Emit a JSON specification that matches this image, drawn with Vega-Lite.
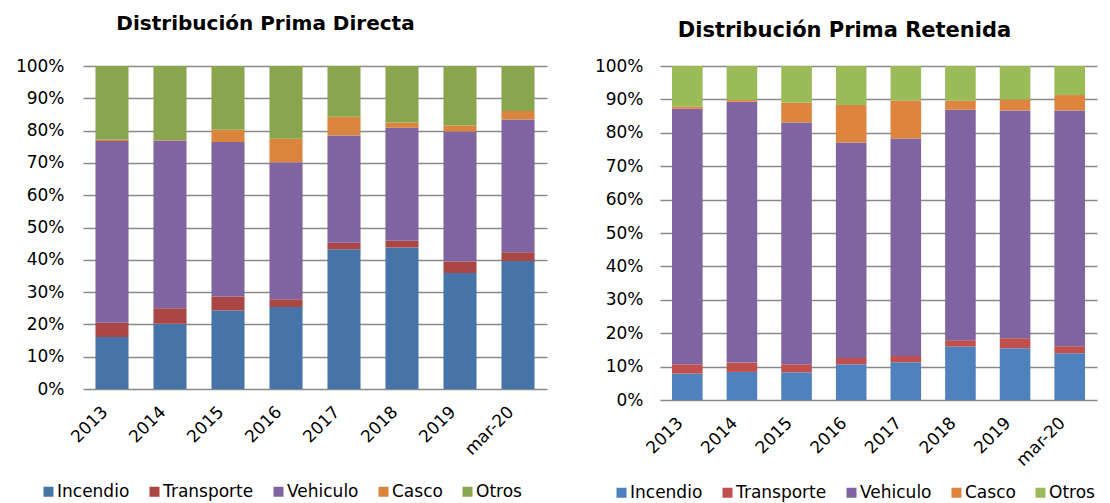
{
  "$schema": "https://vega.github.io/schema/vega-lite/v6.json",
  "background": "white",
  "padding": {"left": 15, "top": 14, "right": 5, "bottom": 5},
  "config": {
    "font": "DejaVu Sans",
    "view": {"stroke": null},
    "axis": {"labelFont": "DejaVu Sans", "labelFontSize": 17, "labelColor": "#000000"},
    "legend": {"labelFont": "DejaVu Sans", "labelFontSize": 17, "labelColor": "#000000"},
    "concat": {"spacing": 113}
  },
  "datasets": {
    "directa": [
      {"periodo": "2013", "ramo": "Incendio", "orden": 1, "valor": 16.1},
      {"periodo": "2013", "ramo": "Transporte", "orden": 2, "valor": 4.4},
      {"periodo": "2013", "ramo": "Vehiculo", "orden": 3, "valor": 56.3},
      {"periodo": "2013", "ramo": "Casco", "orden": 4, "valor": 0.4},
      {"periodo": "2013", "ramo": "Otros", "orden": 5, "valor": 22.8},
      {"periodo": "2014", "ramo": "Incendio", "orden": 1, "valor": 20.2},
      {"periodo": "2014", "ramo": "Transporte", "orden": 2, "valor": 4.8},
      {"periodo": "2014", "ramo": "Vehiculo", "orden": 3, "valor": 51.9},
      {"periodo": "2014", "ramo": "Casco", "orden": 4, "valor": 0.2},
      {"periodo": "2014", "ramo": "Otros", "orden": 5, "valor": 22.9},
      {"periodo": "2015", "ramo": "Incendio", "orden": 1, "valor": 24.3},
      {"periodo": "2015", "ramo": "Transporte", "orden": 2, "valor": 4.3},
      {"periodo": "2015", "ramo": "Vehiculo", "orden": 3, "valor": 47.9},
      {"periodo": "2015", "ramo": "Casco", "orden": 4, "valor": 3.8},
      {"periodo": "2015", "ramo": "Otros", "orden": 5, "valor": 19.7},
      {"periodo": "2016", "ramo": "Incendio", "orden": 1, "valor": 25.4},
      {"periodo": "2016", "ramo": "Transporte", "orden": 2, "valor": 2.4},
      {"periodo": "2016", "ramo": "Vehiculo", "orden": 3, "valor": 42.4},
      {"periodo": "2016", "ramo": "Casco", "orden": 4, "valor": 7.3},
      {"periodo": "2016", "ramo": "Otros", "orden": 5, "valor": 22.5},
      {"periodo": "2017", "ramo": "Incendio", "orden": 1, "valor": 43.3},
      {"periodo": "2017", "ramo": "Transporte", "orden": 2, "valor": 2.0},
      {"periodo": "2017", "ramo": "Vehiculo", "orden": 3, "valor": 33.2},
      {"periodo": "2017", "ramo": "Casco", "orden": 4, "valor": 5.8},
      {"periodo": "2017", "ramo": "Otros", "orden": 5, "valor": 15.7},
      {"periodo": "2018", "ramo": "Incendio", "orden": 1, "valor": 43.8},
      {"periodo": "2018", "ramo": "Transporte", "orden": 2, "valor": 2.1},
      {"periodo": "2018", "ramo": "Vehiculo", "orden": 3, "valor": 35.0},
      {"periodo": "2018", "ramo": "Casco", "orden": 4, "valor": 1.6},
      {"periodo": "2018", "ramo": "Otros", "orden": 5, "valor": 17.5},
      {"periodo": "2019", "ramo": "Incendio", "orden": 1, "valor": 35.9},
      {"periodo": "2019", "ramo": "Transporte", "orden": 2, "valor": 3.6},
      {"periodo": "2019", "ramo": "Vehiculo", "orden": 3, "valor": 40.2},
      {"periodo": "2019", "ramo": "Casco", "orden": 4, "valor": 1.9},
      {"periodo": "2019", "ramo": "Otros", "orden": 5, "valor": 18.4},
      {"periodo": "mar-20", "ramo": "Incendio", "orden": 1, "valor": 39.6},
      {"periodo": "mar-20", "ramo": "Transporte", "orden": 2, "valor": 2.7},
      {"periodo": "mar-20", "ramo": "Vehiculo", "orden": 3, "valor": 41.1},
      {"periodo": "mar-20", "ramo": "Casco", "orden": 4, "valor": 2.7},
      {"periodo": "mar-20", "ramo": "Otros", "orden": 5, "valor": 13.9}
    ],
    "retenida": [
      {"periodo": "2013", "ramo": "Incendio", "orden": 1, "valor": 7.9},
      {"periodo": "2013", "ramo": "Transporte", "orden": 2, "valor": 2.8},
      {"periodo": "2013", "ramo": "Vehiculo", "orden": 3, "valor": 76.5},
      {"periodo": "2013", "ramo": "Casco", "orden": 4, "valor": 0.7},
      {"periodo": "2013", "ramo": "Otros", "orden": 5, "valor": 12.1},
      {"periodo": "2014", "ramo": "Incendio", "orden": 1, "valor": 8.4},
      {"periodo": "2014", "ramo": "Transporte", "orden": 2, "valor": 2.8},
      {"periodo": "2014", "ramo": "Vehiculo", "orden": 3, "valor": 78.1},
      {"periodo": "2014", "ramo": "Casco", "orden": 4, "valor": 0.5},
      {"periodo": "2014", "ramo": "Otros", "orden": 5, "valor": 10.2},
      {"periodo": "2015", "ramo": "Incendio", "orden": 1, "valor": 8.3},
      {"periodo": "2015", "ramo": "Transporte", "orden": 2, "valor": 2.4},
      {"periodo": "2015", "ramo": "Vehiculo", "orden": 3, "valor": 72.4},
      {"periodo": "2015", "ramo": "Casco", "orden": 4, "valor": 5.9},
      {"periodo": "2015", "ramo": "Otros", "orden": 5, "valor": 11.0},
      {"periodo": "2016", "ramo": "Incendio", "orden": 1, "valor": 10.7},
      {"periodo": "2016", "ramo": "Transporte", "orden": 2, "valor": 1.9},
      {"periodo": "2016", "ramo": "Vehiculo", "orden": 3, "valor": 64.5},
      {"periodo": "2016", "ramo": "Casco", "orden": 4, "valor": 11.2},
      {"periodo": "2016", "ramo": "Otros", "orden": 5, "valor": 11.7},
      {"periodo": "2017", "ramo": "Incendio", "orden": 1, "valor": 11.3},
      {"periodo": "2017", "ramo": "Transporte", "orden": 2, "valor": 1.9},
      {"periodo": "2017", "ramo": "Vehiculo", "orden": 3, "valor": 65.1},
      {"periodo": "2017", "ramo": "Casco", "orden": 4, "valor": 11.4},
      {"periodo": "2017", "ramo": "Otros", "orden": 5, "valor": 10.3},
      {"periodo": "2018", "ramo": "Incendio", "orden": 1, "valor": 16.0},
      {"periodo": "2018", "ramo": "Transporte", "orden": 2, "valor": 1.9},
      {"periodo": "2018", "ramo": "Vehiculo", "orden": 3, "valor": 69.0},
      {"periodo": "2018", "ramo": "Casco", "orden": 4, "valor": 2.7},
      {"periodo": "2018", "ramo": "Otros", "orden": 5, "valor": 10.4},
      {"periodo": "2019", "ramo": "Incendio", "orden": 1, "valor": 15.5},
      {"periodo": "2019", "ramo": "Transporte", "orden": 2, "valor": 3.0},
      {"periodo": "2019", "ramo": "Vehiculo", "orden": 3, "valor": 68.2},
      {"periodo": "2019", "ramo": "Casco", "orden": 4, "valor": 3.3},
      {"periodo": "2019", "ramo": "Otros", "orden": 5, "valor": 10.0},
      {"periodo": "mar-20", "ramo": "Incendio", "orden": 1, "valor": 14.0},
      {"periodo": "mar-20", "ramo": "Transporte", "orden": 2, "valor": 2.1},
      {"periodo": "mar-20", "ramo": "Vehiculo", "orden": 3, "valor": 70.6},
      {"periodo": "mar-20", "ramo": "Casco", "orden": 4, "valor": 4.6},
      {"periodo": "mar-20", "ramo": "Otros", "orden": 5, "valor": 8.7}
    ]
  },
  "bounds": "flush",
  "resolve": {"scale": {"color": "independent"}, "legend": {"color": "independent"}},
  "hconcat": [
    {
      "data": {"name": "directa"},
      "width": 464,
      "height": 323,
      "title": {"text": "Distribución Prima Directa", "font": "DejaVu Sans", "fontSize": 20, "fontWeight": "bold", "color": "#000000", "anchor": "middle", "dx": -49.5, "offset": 7, "baseline": "alphabetic"},
      "mark": {"type": "bar"},
      "encoding": {
        "x": {"field": "periodo", "type": "nominal", "sort": ["2013", "2014", "2015", "2016", "2017", "2018", "2019", "mar-20"],
          "scale": {"paddingInner": 0.43, "paddingOuter": 0.215},
          "axis": {"title": null, "labelAngle": -45, "labelAlign": "right", "labelBaseline": "middle", "ticks": false, "domain": false, "labelPadding": 20, "labelOffset": -7}},
        "y": {"field": "valor", "type": "quantitative", "stack": "normalize",
          "scale": {"domain": [0, 1]},
          "axis": {"title": null, "format": ".0%", "values": [0, 0.1, 0.2, 0.3, 0.4, 0.5, 0.6, 0.7, 0.8, 0.9, 1], "domain": false, "ticks": false, "gridColor": "#8a8a8a", "gridWidth": 1.5, "labelPadding": 19}},
        "order": {"field": "orden", "type": "quantitative", "sort": "ascending"},
        "color": {"field": "ramo", "type": "nominal", "sort": ["Incendio", "Transporte", "Vehiculo", "Casco", "Otros"],
          "scale": {"domain": ["Incendio", "Transporte", "Vehiculo", "Casco", "Otros"], "range": ["#4674A8", "#AA4643", "#8064A2", "#DB843D", "#89A54E"]},
          "legend": {"orient": "none", "legendX": -43, "legendY": 417, "direction": "horizontal", "columns": 5, "title": null, "symbolType": "square", "symbolSize": 100, "symbolStrokeWidth": 0, "columnPadding": 16, "labelOffset": 0}}
      }
    },
    {
      "data": {"name": "retenida"},
      "width": 437,
      "height": 334,
      "title": {"text": "Distribución Prima Retenida", "font": "DejaVu Sans", "fontSize": 21, "fontWeight": "bold", "color": "#000000", "anchor": "middle", "dx": -34, "offset": -1, "baseline": "alphabetic"},
      "mark": {"type": "bar"},
      "encoding": {
        "x": {"field": "periodo", "type": "nominal", "sort": ["2013", "2014", "2015", "2016", "2017", "2018", "2019", "mar-20"],
          "scale": {"paddingInner": 0.44, "paddingOuter": 0.22},
          "axis": {"title": null, "labelAngle": -45, "labelAlign": "right", "labelBaseline": "middle", "ticks": false, "domain": false, "labelPadding": 20, "labelOffset": -7}},
        "y": {"field": "valor", "type": "quantitative", "stack": "normalize",
          "scale": {"domain": [0, 1]},
          "axis": {"title": null, "format": ".0%", "values": [0, 0.1, 0.2, 0.3, 0.4, 0.5, 0.6, 0.7, 0.8, 0.9, 1], "domain": false, "ticks": false, "gridColor": "#8a8a8a", "gridWidth": 1.5, "labelPadding": 17}},
        "order": {"field": "orden", "type": "quantitative", "sort": "ascending"},
        "color": {"field": "ramo", "type": "nominal", "sort": ["Incendio", "Transporte", "Vehiculo", "Casco", "Otros"],
          "scale": {"domain": ["Incendio", "Transporte", "Vehiculo", "Casco", "Otros"], "range": ["#4F81BD", "#C0504D", "#8064A2", "#DD843E", "#9BBB59"]},
          "legend": {"orient": "none", "legendX": -47, "legendY": 418, "direction": "horizontal", "columns": 5, "title": null, "symbolType": "square", "symbolSize": 100, "symbolStrokeWidth": 0, "columnPadding": 16, "labelOffset": 0}}
      }
    }
  ]
}
